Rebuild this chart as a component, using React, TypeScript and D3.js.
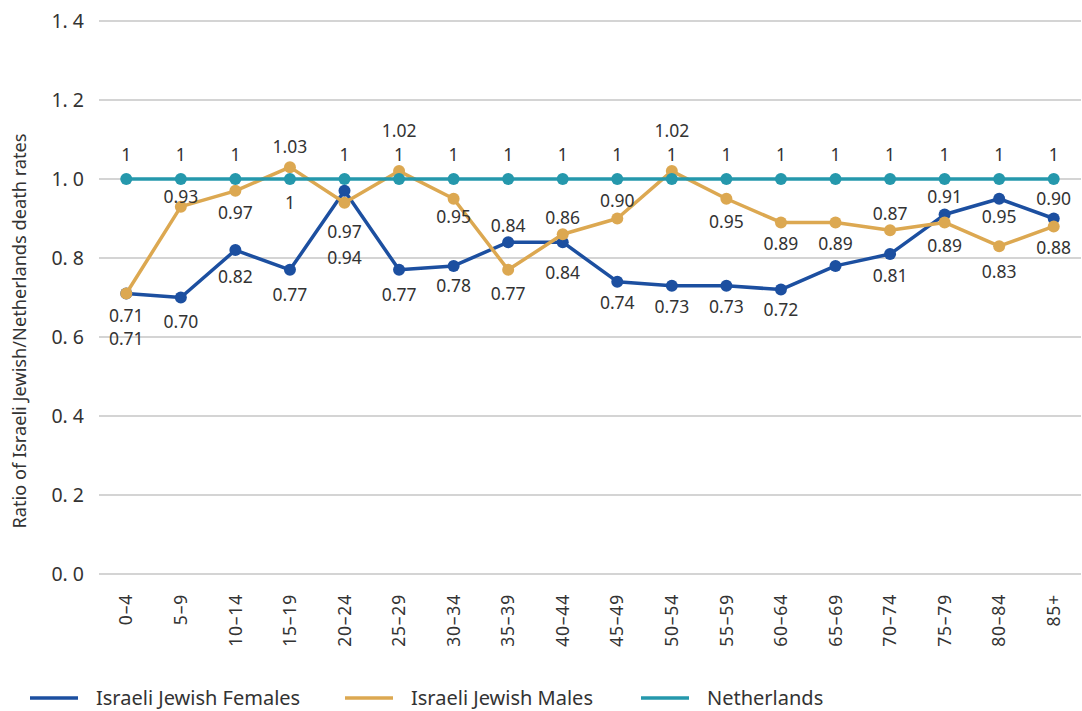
import React from "react";
import * as d3 from "d3";

const categories = ["0–4","5–9","10–14","15–19","20–24","25–29","30–34","35–39","40–44","45–49","50–54","55–59","60–64","65–69","70–74","75–79","80–84","85+"];
const females = [0.71,0.70,0.82,0.77,0.97,0.77,0.78,0.84,0.84,0.74,0.73,0.73,0.72,0.78,0.81,0.91,0.95,0.90];
const males = [0.71,0.93,0.97,1.03,0.94,1.02,0.95,0.77,0.86,0.90,1.02,0.95,0.89,0.89,0.87,0.89,0.83,0.88];
const netherlands = [1,1,1,1,1,1,1,1,1,1,1,1,1,1,1,1,1,1];
// which points carry a value label
const femaleShowLabel = [1,1,1,1,1,1,1,1,1,1,1,1,1,0,1,1,1,1];
const yTicks = [0,0.2,0.4,0.6,0.8,1.0,1.2,1.4];
const legendLabels = ["Israeli Jewish Females","Israeli Jewish Males","Netherlands"];

// label vertical offsets (px, relative to the point)
const femaleLabelDy = [22,24,27,25,41,25,20,-16,31,21,21,21,20,0,22,-18,18,-20];
const maleLabelDy = [45,-10,22,-20,55,-40,18,24,-16,-18,-40,23,21,21,-16,23,26,21];
const nlLabelDy = [-24,-24,-24,24,-24,-24,-24,-24,-24,-24,-24,-24,-24,-24,-24,-24,-24,-24];

const W = 1082, H = 711;
const M = { left: 99, right: 1081, top: 21, bottom: 574 };
const FONT = "'Noto Sans', 'Open Sans', sans-serif";
const colors = ["#1c4fa0", "#dca851", "#2598ac"];

export default function App() {
  const x = d3.scaleBand<string>().domain(categories).range([M.left, M.right]);
  const y = d3.scaleLinear().domain([0, 1.4]).range([M.bottom, M.top]);
  const cx = (i: number) => (x(categories[i]) as number) + x.bandwidth() / 2;
  const line = d3.line<number>().x((_, i) => cx(i)).y((d) => y(d));
  const fmtTick = (v: number) => d3.format(".1f")(v).replace(".", ". ");
  const fmt2 = d3.format(".2f");

  const series = [
    { vals: females, color: colors[0], dy: femaleLabelDy, show: femaleShowLabel, fmt: (v: number) => fmt2(v) },
    { vals: males, color: colors[1], dy: maleLabelDy, show: males.map(() => 1), fmt: (v: number) => fmt2(v) },
    { vals: netherlands, color: colors[2], dy: nlLabelDy, show: netherlands.map(() => 1), fmt: (v: number) => String(v) },
  ];

  const legendX = [30, 345, 641];

  return (
    <svg width={W} height={H} style={{ position: "absolute", left: 0, top: 0, background: "#fff" }} fontFamily={FONT}>
      {yTicks.map((t) => (
        <g key={t}>
          <line x1={M.left} x2={M.right} y1={y(t)} y2={y(t)} stroke="#c6c6c6" strokeWidth={1.3} />
          <text x={84} y={y(t)} dy="0.35em" textAnchor="end" fontSize={19.5} fill="#333">{fmtTick(t)}</text>
        </g>
      ))}
      <text transform={`translate(26,331) rotate(-90)`} textAnchor="middle" fontSize={18.2} fill="#333">
        Ratio of Israeli Jewish/Netherlands death rates
      </text>
      {categories.map((c, i) => (
        <text key={c} transform={`translate(${cx(i)},594) rotate(-90)`} dy="0.35em" textAnchor="end" fontSize={17.5} letterSpacing={0.8} fill="#333">{c}</text>
      ))}
      {series.map((s, si) => (
        <g key={si}>
          <path d={line(s.vals) as string} fill="none" stroke={s.color} strokeWidth={3.5} strokeLinejoin="round" />
          {s.vals.map((v, i) => (
            <circle key={i} cx={cx(i)} cy={y(v)} r={6} fill={s.color} />
          ))}
        </g>
      ))}
      {series.map((s, si) => (
        <g key={"l" + si}>
          {s.vals.map((v, i) =>
            s.show[i] ? (
              <text key={i} x={cx(i)} y={y(v) + s.dy[i]} dy="0.35em" textAnchor="middle" fontSize={17.5} fill="#333">{s.fmt(v)}</text>
            ) : null
          )}
        </g>
      ))}
      {legendLabels.map((l, i) => (
        <g key={l}>
          <line x1={legendX[i]} x2={legendX[i] + 48} y1={698} y2={698} stroke={colors[i]} strokeWidth={3.5} />
          <text x={legendX[i] + 66} y={698} dy="0.35em" fontSize={20} fill="#333">{l}</text>
        </g>
      ))}
    </svg>
  );
}
